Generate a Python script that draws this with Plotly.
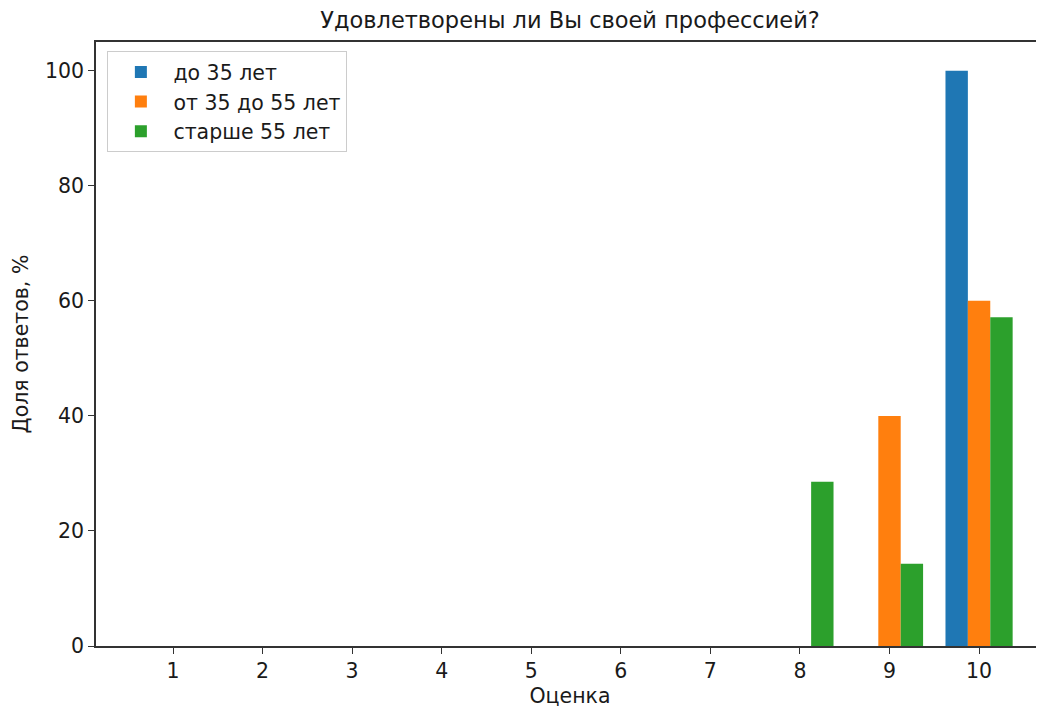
import plotly.graph_objects as go

scores = [1, 2, 3, 4, 5, 6, 7, 8, 9, 10]
series_names = ["до 35 лет", "от 35 до 55 лет", "старше 55 лет"]
under35 = [0, 0, 0, 0, 0, 0, 0, 0, 0, 100]
from35to55 = [0, 0, 0, 0, 0, 0, 0, 0, 40, 60]
over55 = [0, 0, 0, 0, 0, 0, 0, 28.57, 14.29, 57.14]
colors = ["#1f77b4", "#ff7f0e", "#2ca02c"]
offsets = [-0.375, -0.125, 0.125]

fig = go.Figure()
for name, vals, c, off in zip(series_names, [under35, from35to55, over55], colors, offsets):
    fig.add_trace(go.Bar(x=scores, y=vals, name=name, marker_color=c,
                         marker_line_width=0, width=0.25, offset=off))

font = "DejaVu Sans, sans-serif"
fig.update_layout(
    width=1036, height=700,
    margin=dict(l=88, r=0, t=34, b=62, autoexpand=False),
    paper_bgcolor="white", plot_bgcolor="white",
    barmode="overlay",
    font=dict(family=font, size=20.5, color="#1a1a1a"),
    title=dict(text="Удовлетворены ли Вы своей профессией?", x=0.5, xref="paper",
               y=1 - 12 / 700, yanchor="middle", font=dict(size=22.5), automargin=False),
    showlegend=True,
    legend=dict(x=0.012, y=0.985, xanchor="left", yanchor="top",
                bordercolor="#cccccc", borderwidth=1, bgcolor="white",
                font=dict(size=20.5), tracegroupgap=2, itemwidth=55),
    xaxis=dict(range=[0.14, 10.725], tickvals=scores, ticktext=[str(s) for s in scores],
               showgrid=False, zeroline=False, showline=True, linecolor="#333", linewidth=1.5,
               mirror=True, ticks="outside", ticklen=6, tickcolor="#333", automargin=False,
               title=dict(text="Оценка", font=dict(size=20.5), standoff=6)),
    yaxis=dict(range=[0, 105], tickvals=[0, 20, 40, 60, 80, 100],
               showgrid=False, zeroline=False, showline=True, linecolor="#333", linewidth=1.5,
               ticks="outside", ticklen=6, tickcolor="#333", automargin=False,
               title=dict(text="Доля ответов, %", font=dict(size=20.5), standoff=11)),
)
fig.write_html("out.html")
